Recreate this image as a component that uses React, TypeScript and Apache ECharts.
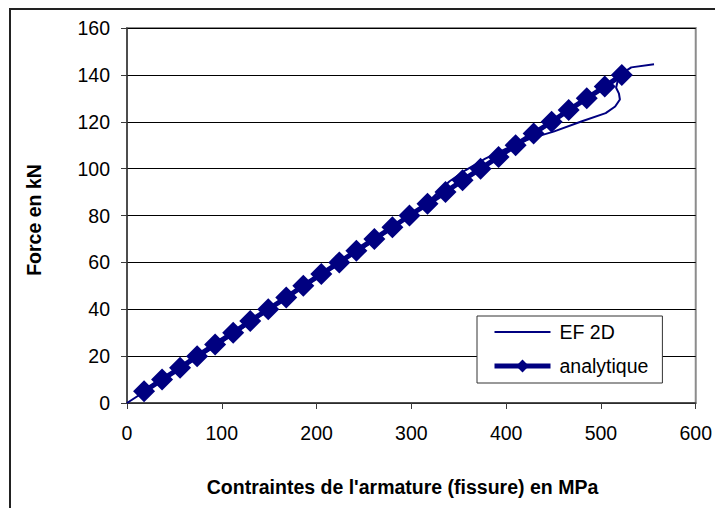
import React, { useEffect, useRef } from "react";
import * as echarts from "echarts";

const xTicks = [0, 100, 200, 300, 400, 500, 600];
const yTicks = [0, 20, 40, 60, 80, 100, 120, 140, 160];

const seriesNames = ["EF 2D", "analytique"];

// EF 2D: [stress MPa, force kN]
const efStress = [0, 40, 100, 160, 220, 280, 300, 322, 340, 357, 378, 400, 427, 450, 480, 505, 515, 520, 519, 516, 518, 522, 532, 556];
const efForce = [0, 10.5, 26, 42.5, 58.5, 74.5, 80.5, 87.5, 94.5, 99.3, 104.3, 108.5, 113, 115.8, 120.2, 123.7, 126.5, 129.5, 132, 134.5, 138, 140.5, 143.2, 144.5];

// analytique
const anStress = [18, 37, 56, 74, 93, 112, 130, 149, 168, 186, 205, 224, 242, 261, 280, 298, 317, 336, 354, 373, 392, 410, 429, 448, 466, 485, 504, 522];
const anForce = [5, 10, 15, 20, 25, 30, 35, 40, 45, 50, 55, 60, 65, 70, 75, 80, 85, 90, 95, 100, 105, 110, 115, 120, 125, 130, 135, 140];

const xTitle = "Contraintes de l'armature (fissure) en MPa";
const yTitle = "Force en kN";

export default function App() {
  const ref = useRef<HTMLDivElement>(null);
  useEffect(() => {
    if (!ref.current) return;
    const chart = echarts.init(ref.current, undefined, { renderer: "svg" });
    const font = "'Liberation Sans', Arial, sans-serif";
    const navy = "#000080";
    chart.setOption({
      animation: false,
      backgroundColor: "#ffffff",
      textStyle: { fontFamily: font },
      grid: {
        left: 127,
        right: 16,
        top: 28,
        bottom: 105,
        show: true,
        borderColor: "#8c8c8c",
        borderWidth: 2,
        backgroundColor: "transparent",
      },
      xAxis: {
        type: "value",
        min: xTicks[0],
        max: xTicks[xTicks.length - 1],
        interval: 100,
        axisLine: { show: true, lineStyle: { color: "#3a3a3a", width: 1.5 } },
        axisTick: { show: true, inside: false, length: 6, lineStyle: { color: "#3a3a3a", width: 1 } },
        axisLabel: { color: "#000", fontSize: 19.5, fontFamily: font, margin: 20 },
        splitLine: { show: false },
      },
      yAxis: {
        type: "value",
        min: yTicks[0],
        max: yTicks[yTicks.length - 1],
        interval: 20,
        axisLine: { show: true, lineStyle: { color: "#3a3a3a", width: 1.5 } },
        axisTick: { show: true, inside: false, length: 6, lineStyle: { color: "#3a3a3a", width: 1 } },
        axisLabel: { color: "#000", fontSize: 19.5, fontFamily: font, margin: 17 },
        splitLine: { show: true, lineStyle: { color: "#000", width: 1 } },
      },
      legend: {
        orient: "vertical",
        left: 477,
        top: 316,
        padding: [6, 14, 7, 15],
        itemWidth: 56,
        itemHeight: 16,
        itemGap: 14,
        backgroundColor: "#fff",
        borderColor: "#333",
        borderWidth: 1,
        data: [
          { name: seriesNames[0], icon: "path://M0,0H56V2H0Z", itemStyle: { color: navy } },
          { name: seriesNames[1], lineStyle: { width: 5 } },
        ],
        textStyle: { color: "#000", fontSize: 19.5, fontFamily: font, padding: [0, 0, 0, 4] },
      },
      series: [
        {
          name: seriesNames[0],
          type: "line",
          data: efStress.map((s, i) => [s, efForce[i]]),
          showSymbol: false,
          symbol: "none",
          lineStyle: { color: navy, width: 2 },
          itemStyle: { color: navy },
          z: 2,
        },
        {
          name: seriesNames[1],
          type: "line",
          data: anStress.map((s, i) => [s, anForce[i]]),
          symbol: "diamond",
          symbolSize: 22,
          lineStyle: { color: navy, width: 5 },
          itemStyle: { color: navy },
          z: 3,
        },
      ],
      graphic: [
        {
          type: "rect",
          shape: { x: 10, y: 9, width: 800, height: 600 },
          style: { fill: "none", stroke: "#222", lineWidth: 2 },
          silent: true,
          z: 100,
        },
        {
          type: "text",
          x: 402.5,
          y: 487,
          style: {
            text: xTitle,
            fill: "#000",
            font: `bold 19.5px ${font}`,
            align: "center",
            verticalAlign: "middle",
          },
        },
        {
          type: "text",
          x: 34,
          y: 220,
          rotation: Math.PI / 2,
          style: {
            text: yTitle,
            fill: "#000",
            font: `bold 19.5px ${font}`,
            align: "center",
            verticalAlign: "middle",
          },
        },
      ],
    });
    return () => chart.dispose();
  }, []);
  return (
    <div
      ref={ref}
      style={{ position: "fixed", left: 0, top: 0, width: 715, height: 508 }}
    />
  );
}
